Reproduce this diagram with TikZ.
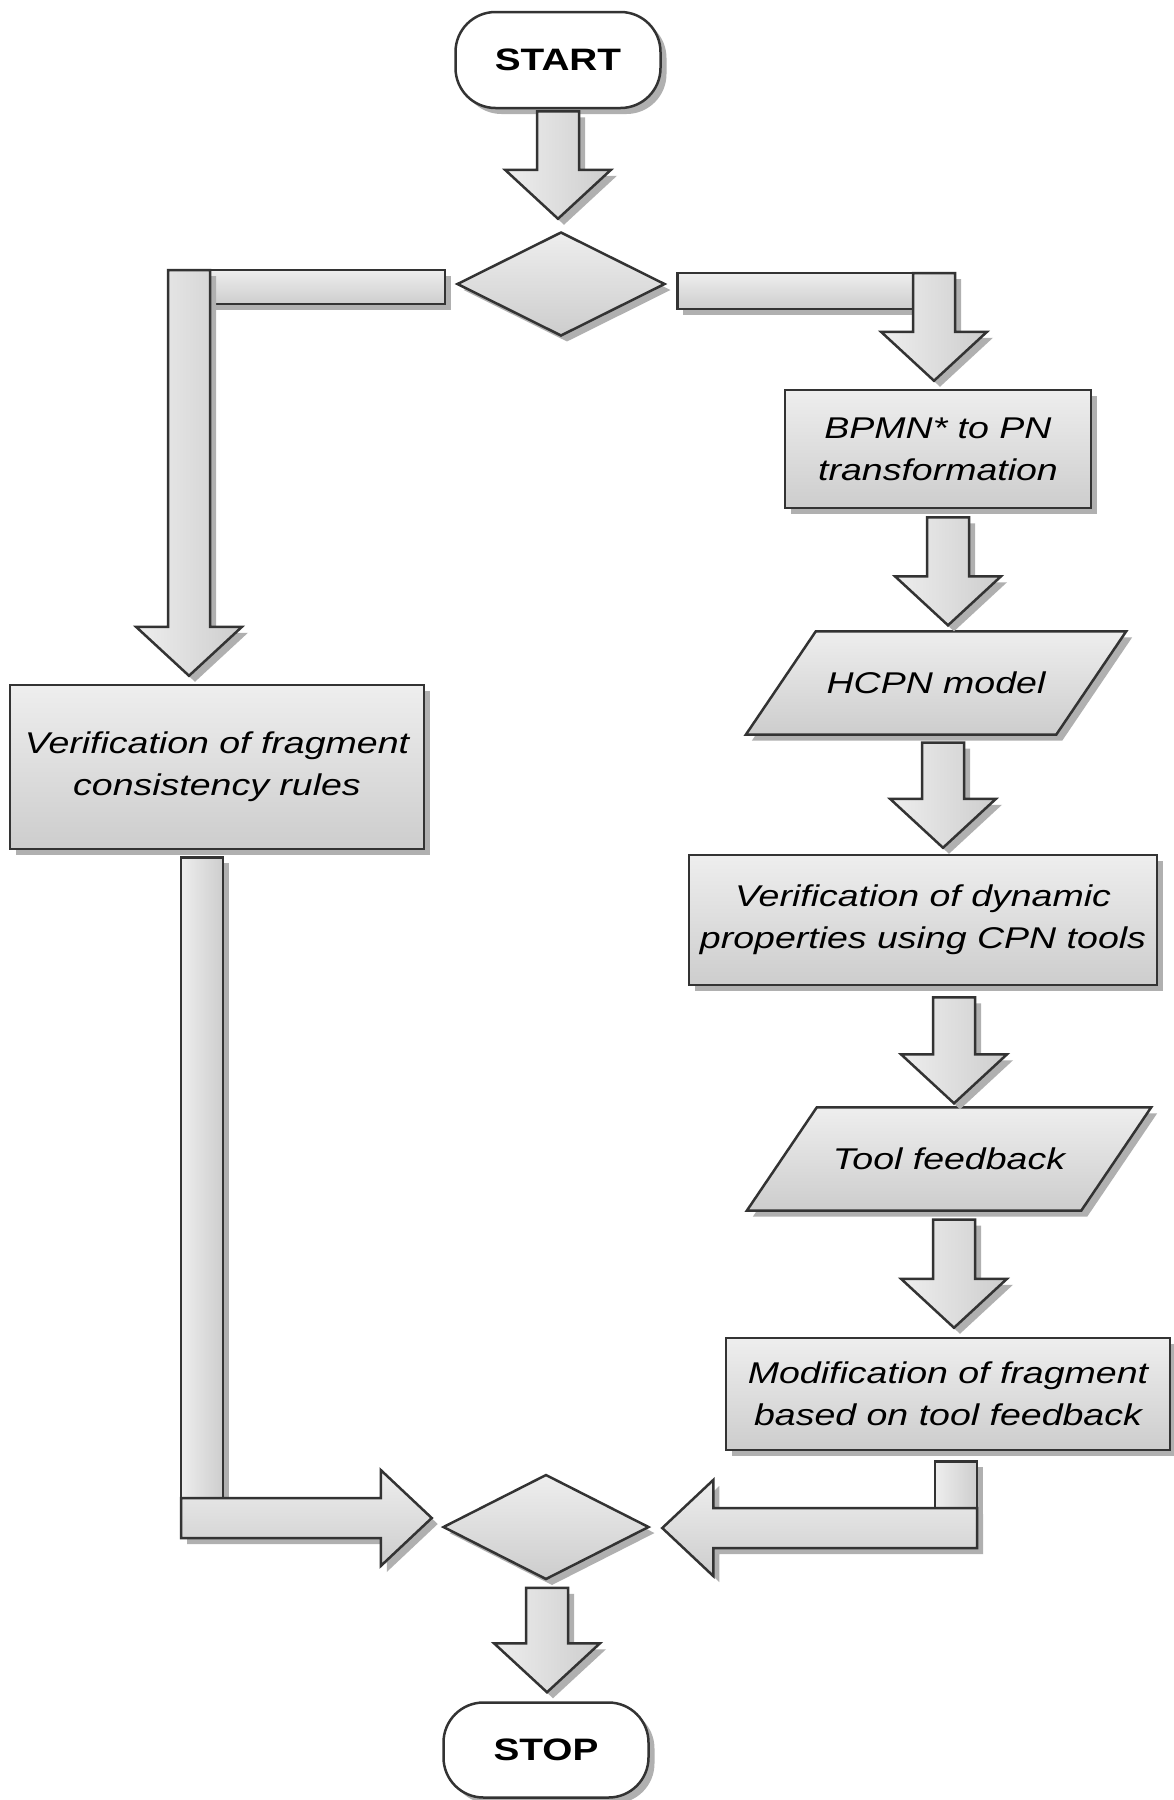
\documentclass[tikz,border=0pt]{standalone}
\usepackage{fontspec}
\setmainfont{Liberation Sans}[FakeStretch=1.25]
\usetikzlibrary{shapes.geometric,calc,shadows,backgrounds}
\definecolor{edge}{HTML}{333333}
\definecolor{flight}{HTML}{EEEEEE}
\definecolor{fdark}{HTML}{CDCDCD}
\definecolor{shade}{HTML}{B0B0B0}
\tikzset{
  shad/.style={drop shadow={shadow xshift=6pt,shadow yshift=-6pt,fill=shade,opacity=1}},
  shp/.style={draw=edge,line width=2.5pt,line join=miter,shad},
  vfill/.style={top color=flight,bottom color=fdark},
  hfill/.style={left color=flight,right color=fdark},
  termbox/.style={shp,fill=white,rectangle,rounded corners=40pt,minimum width=205pt,minimum height=96pt,inner sep=0pt,font=\bfseries\fontsize{31}{36}\selectfont},
  procbox/.style={shp,vfill,rectangle,inner sep=0pt,align=center,font=\itshape\fontsize{30}{42}\selectfont},
  partext/.style={rectangle,inner sep=0pt,align=center,font=\itshape\fontsize{30}{42}\selectfont},
  decbox/.style={shp,vfill,diamond,aspect=2,inner sep=0pt,minimum width=208pt,minimum height=104pt},
}
\newcommand\blkdown[2]{%
  \draw[shp,hfill] let \p1=(#1), \p2=(#2) in
    (\x1-21pt,\y1) -- (\x1+21pt,\y1) -- (\x1+21pt,\y2+49pt) -- (\x1+53pt,\y2+49pt)
    -- (\x1,\y2) -- (\x1-53pt,\y2+49pt) -- (\x1-21pt,\y2+49pt) -- cycle;}
\newcommand\blkright[2]{%
  \draw[shp,vfill] let \p1=(#1), \p2=(#2) in
    (\x1,\y1+20pt) -- (\x2-51pt,\y1+20pt) -- (\x2-51pt,\y1+48pt) -- (\x2,\y1)
    -- (\x2-51pt,\y1-48pt) -- (\x2-51pt,\y1-20pt) -- (\x1,\y1-20pt) -- cycle;}
\newcommand\blkleft[2]{%
  \draw[shp,vfill] let \p1=(#1), \p2=(#2) in
    (\x1,\y1+20pt) -- (\x2+51pt,\y1+20pt) -- (\x2+51pt,\y1+48pt) -- (\x2,\y1)
    -- (\x2+51pt,\y1-48pt) -- (\x2+51pt,\y1-20pt) -- (\x1,\y1-20pt) -- cycle;}
\begin{document}
\begin{tikzpicture}[x=1pt,y=-1pt]
\useasboundingbox (0,0) rectangle (1174,1800);

% nodes
\node[termbox] (start) at (558,60) {START};
\node[decbox] (d1) at (561,284) {};
\node[procbox,minimum width=306pt,minimum height=118pt] (bpmn) at (938,449) {BPMN* to PN\\transformation};
\node[partext,minimum width=310pt,minimum height=103pt] (hcpn) at (936,683) {HCPN model};
\node[procbox,minimum width=468pt,minimum height=130pt] (verdyn) at (923,920) {Verification of dynamic\\properties using CPN tools};
\node[partext,minimum width=334pt,minimum height=103pt] (tool) at (949,1159) {Tool feedback};
\node[procbox,minimum width=444pt,minimum height=112pt] (modif) at (948,1394) {Modification of fragment\\based on tool feedback};
\node[procbox,minimum width=414pt,minimum height=164pt] (vfc) at (217,767) {Verification of fragment\\consistency rules};
\node[decbox,minimum width=206pt,minimum height=105pt] (d2) at (546,1527) {};
\node[termbox,minimum height=95pt] (stop) at (546,1750) {STOP};

% white page and parallelograms behind their texts
\begin{scope}[on background layer]
  \fill[white] (0,0) rectangle (1174,1800);
  \draw[shp,vfill] ($(hcpn.north west)+(35,0)$) -- ($(hcpn.north east)+(35,0)$)
    -- ($(hcpn.south east)+(-35,0)$) -- ($(hcpn.south west)+(-35,0)$) -- cycle;
  \draw[shp,vfill] ($(tool.north west)+(35,0)$) -- ($(tool.north east)+(35,0)$)
    -- ($(tool.south east)+(-35,0)$) -- ($(tool.south west)+(-35,0)$) -- cycle;
\end{scope}

% straight block arrows
\blkdown{$(start.south)+(0,2)$}{$(d1.north)+(0,-12)$}
\blkdown{$(bpmn.south)+(10,8)$}{$(hcpn.north)+(0,-6)$}
\blkdown{$(hcpn.south)+(7,8)$}{$(verdyn.north)+(0,-6)$}
\blkdown{$(verdyn.south)+(31,11)$}{$(tool.north)+(0,-4)$}
\blkdown{$(tool.south)+(5,9)$}{$(modif.north)+(0,-9)$}
\blkdown{$(d2.south)+(1,7)$}{$(stop.north)+(0,-9)$}

% top-left branch
\coordinate (bendA) at (189,287);
\draw[shp,vfill] let \p1=($(d1.west)+(-11,0)$), \p2=(bendA) in
  (\x1,\y2+17pt) -- (\x2-21pt,\y2+17pt) -- (\x2-21pt,\y2-17pt) -- (\x1,\y2-17pt) -- cycle;
\blkdown{$(bendA)+(0,-17)$}{$(vfc.north)+(0,-8)$}

% top-right branch
\coordinate (bendB) at (934,291);
\draw[shp,vfill] let \p1=($(d1.east)+(11,0)$), \p2=(bendB) in
  (\x1,\y2+18pt) -- (\x2+21pt,\y2+18pt) -- (\x2+21pt,\y2-18pt) -- (\x1,\y2-18pt) -- cycle;
\blkdown{$(bendB)+(0,-18)$}{$(bpmn.north)+(0,-8)$}

% bottom-left branch
\coordinate (bendC) at (202,1518);
\draw[shp,hfill] let \p1=($(vfc.south)+(-15,7)$), \p2=(bendC) in
  (\x2-21pt,\y1) rectangle (\x2+21pt,\y2);
\blkright{$(bendC)+(-21,0)$}{$(d2.west)+(-10,0)$}

% bottom-right branch
\coordinate (bendD) at (956,1528);
\draw[shp,hfill] let \p1=($(modif.south)+(8,10)$), \p2=(bendD) in
  (\x2-21pt,\y1) rectangle (\x2+21pt,\y2);
\blkleft{$(bendD)+(21,0)$}{$(d2.east)+(12,0)$}
\end{tikzpicture}
\end{document}
